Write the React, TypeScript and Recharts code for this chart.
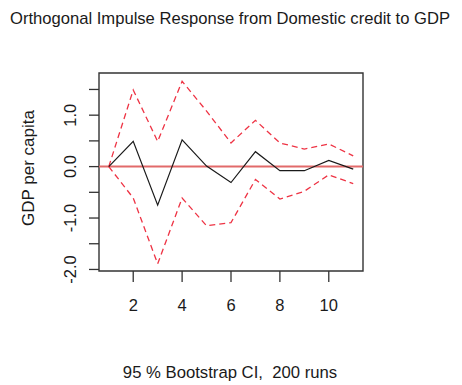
import React from "react";
import { LineChart, Line, XAxis, YAxis, ReferenceLine, ReferenceArea } from "recharts";

// vars::irf style plot
const steps = [1, 2, 3, 4, 5, 6, 7, 8, 9, 10, 11];
const irf = [0, 0.49, -0.75, 0.52, 0.01, -0.31, 0.29, -0.08, -0.08, 0.12, -0.05];
const upper = [0, 1.49, 0.49, 1.66, 1.08, 0.46, 0.9, 0.46, 0.34, 0.44, 0.21];
const lower = [0, -0.61, -1.89, -0.61, -1.15, -1.09, -0.25, -0.63, -0.48, -0.16, -0.33];
const xTicks = [2, 4, 6, 8, 10];
const yTicks = [-2, -1.5, -1, -0.5, 0, 0.5, 1, 1.5];
const yLabelTicks = [-2, -1, 0, 1];

const FONT = "'Liberation Sans', Arial, sans-serif";
const INK = "#1a1a1a";
const BOX = "#333";
const CI = "#ee3344";
const ZERO = "#e26a6a";

const X_DOMAIN: [number, number] = [0.6, 11.4];
const Y_DOMAIN: [number, number] = [-2.03, 1.82];

const data = steps.map((s, i) => ({ step: s, irf: irf[i], upper: upper[i], lower: lower[i] }));

function XTick({ x, y, payload }: any) {
  return (
    <text x={x} y={y + 29} textAnchor="middle" fontFamily={FONT} fontSize={16.5} fill={INK}>
      {payload.value}
    </text>
  );
}

// R draws y labels parallel to the axis and drops the ones that would collide
function YTick({ x, y, payload }: any) {
  if (!yLabelTicks.includes(payload.value)) return null;
  const bx = x - 13;
  return (
    <text
      x={bx}
      y={y}
      transform={`rotate(-90, ${bx}, ${y})`}
      textAnchor="middle"
      fontFamily={FONT}
      fontSize={16.5}
      fill={INK}
    >
      {payload.value.toFixed(1)}
    </text>
  );
}

export default function App() {
  return (
    <div style={{ position: "absolute", left: 0, top: 0, width: 462, height: 385, background: "#fff" }}>
      <div
        style={{
          position: "absolute",
          left: 0,
          top: 11,
          width: 460,
          textAlign: "center",
          fontFamily: FONT,
          fontSize: 16.6,
          lineHeight: "16px",
          color: INK,
          whiteSpace: "pre",
        }}
      >
        Orthogonal Impulse Response from Domestic credit to GDP
      </div>
      <LineChart width={462} height={385} data={data} margin={{ top: 73, right: 99, left: 0, bottom: 0 }}>
        <XAxis
          dataKey="step"
          type="number"
          domain={X_DOMAIN}
          ticks={xTicks}
          allowDataOverflow
          axisLine={false}
          tickSize={11}
          tickMargin={0}
          tickLine={{ stroke: BOX, strokeWidth: 1.3 }}
          tick={<XTick />}
          height={114}
          label={{
            content: () => (
              <text x={230} y={378} textAnchor="middle" fontFamily={FONT} fontSize={16.7} fill={INK} style={{ whiteSpace: "pre" }}>
                95 % Bootstrap CI,  200 runs
              </text>
            ),
          }}
        />
        <YAxis
          type="number"
          domain={Y_DOMAIN}
          ticks={yTicks}
          allowDataOverflow
          axisLine={false}
          tickSize={10}
          tickMargin={0}
          tickLine={{ stroke: BOX, strokeWidth: 1.3 }}
          tick={<YTick />}
          width={99}
          label={{
            content: () => (
              <text
                x={34}
                y={168}
                transform="rotate(-90, 34, 168)"
                textAnchor="middle"
                fontFamily={FONT}
                fontSize={17}
                fill={INK}
              >
                GDP per capita
              </text>
            ),
          }}
        />
        <ReferenceArea x1={X_DOMAIN[0]} x2={X_DOMAIN[1]} y1={Y_DOMAIN[0]} y2={Y_DOMAIN[1]} fill="none" stroke={BOX} strokeWidth={1.4} fillOpacity={0} />
        <ReferenceLine y={0} stroke={ZERO} strokeWidth={2} />
        <Line dataKey="upper" stroke={CI} strokeWidth={1.3} strokeDasharray="6 4" dot={false} isAnimationActive={false} />
        <Line dataKey="lower" stroke={CI} strokeWidth={1.3} strokeDasharray="6 4" dot={false} isAnimationActive={false} />
        <Line dataKey="irf" stroke={INK} strokeWidth={1.2} dot={false} isAnimationActive={false} />
      </LineChart>
    </div>
  );
}
